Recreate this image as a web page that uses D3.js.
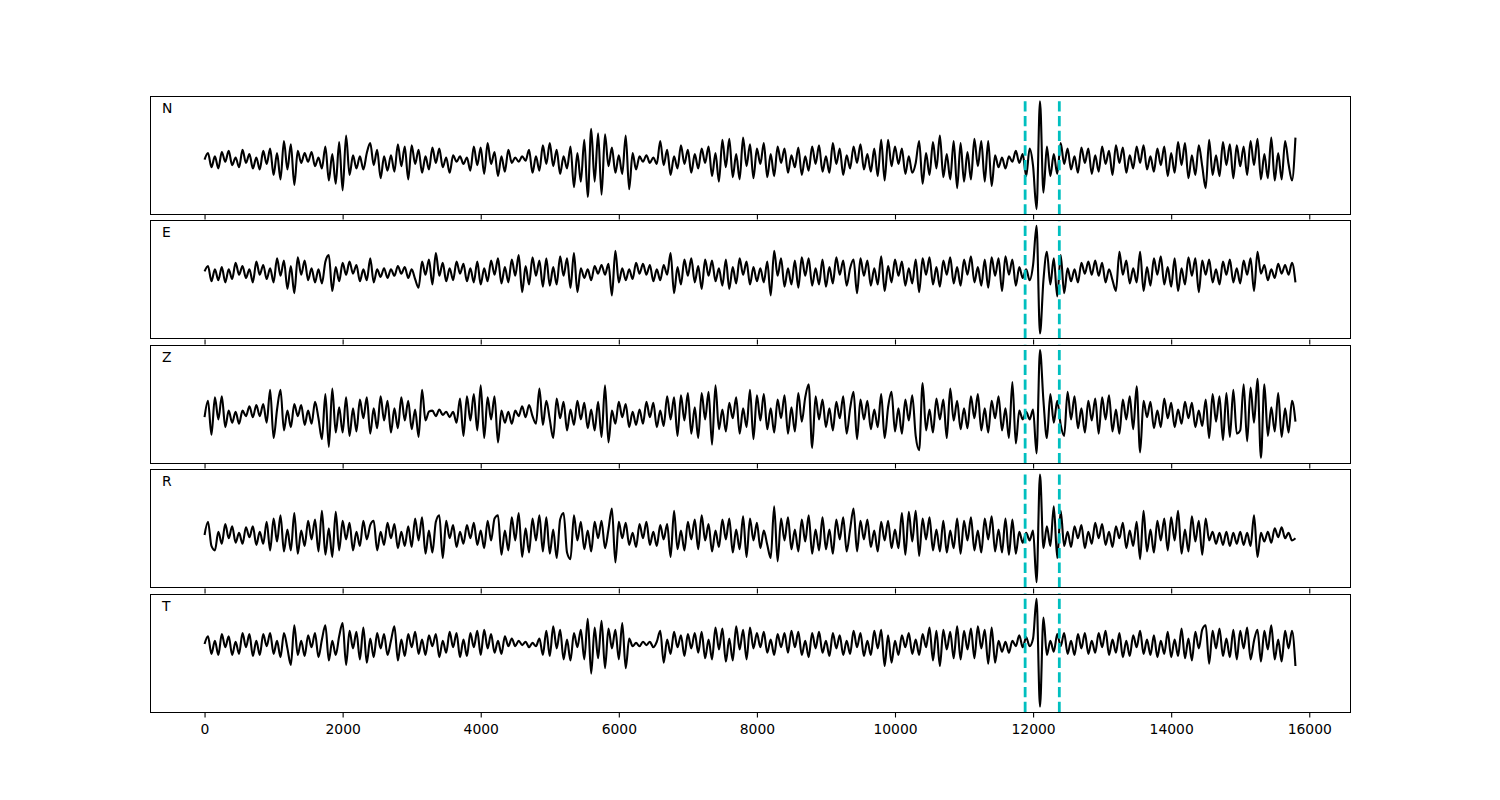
<!DOCTYPE html>
<html>
<head>
<meta charset="utf-8">
<script src="https://cdn.jsdelivr.net/npm/d3@7"></script>
<style>
  body { margin: 0; background: #fff; }
  text { font-family: "DejaVu Sans", sans-serif; }
</style>
</head>
<body>
<div id="chart"></div>
<script>
// one sample every 50 units (amplitudes in rough pixel units)
const sampleStep = 50

const channels = ["N", "E", "Z", "R", "T"]

const traceN = [
  0, 6, -7, 3, -8, 7, -2, 8, -5, 2, -7, 9, -3, 5, -8, 2, -9, 8, -4, 10,
  -14, 6, -18, 17, -9, 14, -23, 8, -3, 6, -2, 7, -6, 2, -8, 12, -19, 5, -22, 16,
  -28, 22, -14, 4, -8, 3, -9, 6, 15, -5, 9, -17, 3, -10, 4, -11, 14, -6, 12, -18,
  13, -4, 9, -12, 3, -9, 11, -3, 10, -7, 2, -12, 4, -2, 3, -4, 2, -10, 12, -5,
  11, -13, 15, -4, 7, -15, 3, -11, 9, -3, 2, -2, 3, -1, 9, -12, 3, -10, 13, -4,
  15, -6, 9, -13, 3, -8, 12, -25, 6, -20, 18, -34, 28, -20, 24, -32, 23, -6, 11, -12,
  4, -13, 22, -27, 6, -9, 3, -2, 4, -3, 2, -4, 17, -5, 9, -14, 3, -8, 13, -4,
  9, -12, 5, -8, 10, -3, 12, -15, 6, -20, 18, -7, 19, -16, 5, -18, 20, -6, 14, -17,
  10, -4, 15, -16, 5, -15, 12, -3, 10, -12, 4, -7, 11, -14, 3, -10, 12, -4, 13, -11,
  3, -12, 15, -4, 10, -14, 4, -8, 12, -3, 14, -9, 5, -11, 10, -15, 18, -19, 18, -6,
  12, -4, 10, -13, 3, -12, -3, 17, -22, 6, -14, 16, -8, 22, -16, 5, -18, 17, -26, 15,
  -20, 7, -18, 19, -6, 17, -20, 17, -24, 4, -7, 2, -8, 3, -2, 8, -3, 5, -15, 10,
  -6, -45, 53, -30, 12, -15, 5, -13, 15, -4, 10, -9, 3, -12, 11, -3, 10, -13, 4, -11,
  12, -4, 8, -14, 13, -3, 11, -12, 4, -8, 12, -3, 13, -9, 3, -11, 10, -5, 12, -15,
  6, -12, 16, -5, 15, -17, 4, -14, 13, -6, -26, 18, -14, 4, -15, 16, -5, 14, -17, 13,
  -6, 12, -14, 17, -5, 19, -18, 5, -17, 20, -19, 6, -18, 17, -4, -19, 20
]

const traceE = [
  0, 5, -9, 2, -8, 4, -10, 2, -7, 8, -3, 5, -6, 2, -10, 9, -3, 6, -7, 3,
  -10, 12, -4, 10, -16, 5, -20, 13, -3, 10, -8, 3, -10, 2, -11, 9, 15, -18, 4, -9,
  8, -3, 9, -2, 6, -9, 2, -8, 12, -10, 2, -5, 3, -6, 2, -4, 5, -2, 4, -6,
  2, -7, -15, 9, -3, 11, -12, 17, -4, 8, -9, 3, -8, 9, -2, 7, -9, 3, -10, 9,
  -12, 3, -9, 10, -3, 12, -11, 4, -10, 11, -4, 15, -19, 5, -12, 13, -4, 10, -14, 12,
  -13, 4, -12, 14, -4, 12, -15, 17, -19, 3, -6, 2, -8, 5, -2, 6, -3, 7, -22, 19,
  -10, 3, -8, 2, -7, 8, -2, 7, -3, 6, -9, 2, -8, 6, -3, 17, -20, 4, -12, 11,
  -4, 12, -10, 5, -16, 11, -4, 10, -9, 3, -13, 11, -16, 4, -11, 12, -3, 9, -12, 4,
  -9, 3, -10, 9, -22, 19, -4, 12, -14, 3, -12, 10, -15, 13, -4, 12, -13, 3, -12, 11,
  -14, 4, -11, 13, -3, 10, -13, 3, 11, -20, 12, -4, 10, -13, 3, -12, 14, -18, 5, -10,
  11, -4, 9, -13, 3, -11, 11, -19, 12, -3, 13, -12, 4, -14, 10, -3, 13, -11, 4, -13,
  11, -3, 14, -10, 4, -13, 11, -15, 13, -4, 12, -18, 14, -3, 11, -13, 4, -6, 2, -8,
  6, 42, -57, -8, 18, -12, 12, -23, 15, -20, 3, -9, 2, -10, 8, -2, 9, -3, 10, -4,
  8, -10, 2, -8, -18, 18, -3, 10, -11, 3, -10, 18, -18, 4, -13, 12, -3, 14, -12, 4,
  -14, 12, -18, 3, -12, 13, -4, 12, -19, 10, -3, 11, -10, 2, -12, 9, -3, 11, -10, 3,
  -11, 10, -3, 12, -18, 18, -2, 6, -8, 2, -6, 7, -2, 6, -3, 8, -10
]

const traceZ = [
  -3, 12, -19, 15, -5, 16, -12, 3, -8, 2, -9, 3, -2, 7, -3, 8, -2, 9, -8, 22,
  -22, 4, 22, -15, 3, -12, 9, -2, 8, -10, 3, -9, 11, -4, -23, 18, -30, 23, -17, 6,
  -17, 15, -20, 5, -16, 13, -4, 15, -18, 5, -13, 16, -6, 12, -17, 5, -13, 15, -6, 12,
  -14, 4, -21, 22, -6, 2, 3, -2, 4, -1, 2, -3, 2, -8, 14, -20, 16, -6, 18, -15,
  26, -22, 15, -5, 16, -26, 3, -8, 2, -9, 3, -2, 7, -3, 8, -2, -9, 23, -10, 12,
  -5, -22, 14, -4, 11, -15, 4, -10, 12, -5, 10, -13, 4, -15, 11, -21, 26, -26, 3, -9,
  11, -3, 9, -12, 2, -10, 4, -9, 11, -3, 10, -12, 3, -11, 16, -5, 15, -20, 17, -6,
  19, -18, 6, -22, 19, -5, 20, -28, 26, -14, 4, -16, 10, -4, 15, -18, 5, -12, 22, -23,
  17, -6, 18, -14, 5, -17, 13, -4, 17, -18, 6, -16, 19, -7, 15, 27, -31, 16, -5, 13,
  -12, 5, -15, 11, -4, 16, -18, 5, 20, -23, 13, -5, 12, -14, 4, -12, 18, -22, 6, 20,
  -16, 5, -18, 13, -6, 17, -20, -33, 28, -15, 4, -17, 14, -5, 13, -22, 23, -6, 12, -14,
  5, -13, 16, -4, 18, -15, 5, -17, 12, -4, 16, -15, 5, -22, 29, -27, 3, -5, 2, -5,
  4, -36, 58, 12, -22, 18, -8, 12, -10, -20, 20, -5, 16, -13, 5, -17, 12, -6, 14, -18,
  15, -5, 17, -16, 4, -18, 13, -5, 16, -14, 25, -35, 12, -3, 11, -13, 3, -12, 14, -4,
  10, -12, 4, -9, 11, -4, 10, -12, 3, -11, 13, -22, 18, -7, 16, -24, 19, -21, 22, -18,
  -15, 27, -25, 24, -8, 32, -40, 27, -20, 6, -16, 19, -21, 5, -17, 12, -7
]

const traceR = [
  0, 12, -10, -14, 3, -8, 10, -3, 8, -7, 2, -8, 7, -2, 8, -9, 3, -8, 12, -14,
  15, -6, 18, -15, 5, -14, 20, -17, 4, -10, 13, -4, 14, -15, 22, -18, 6, -20, 21, -14,
  13, -4, 11, -14, 3, -10, 13, -4, 9, 13, -14, 3, -9, 11, -3, 10, -12, 3, -10, 8,
  -11, 15, -5, 16, -17, 4, -16, 12, 18, -21, 13, -3, 9, -11, 3, -8, 9, -3, 11, -9,
  4, -12, 13, -5, 15, 18, -18, 4, -14, 16, -5, 20, -20, 6, -16, 15, -5, 18, -15, 16,
  -17, 5, -21, 14, 20, -16, -22, 18, -5, 12, -13, 4, -15, 12, -3, 13, -12, 5, 24, -25,
  12, -3, 11, -9, 2, -11, 10, -3, 12, -9, 3, -10, 9, -4, 10, -20, 22, -13, 4, -14,
  12, -4, 14, -13, 18, -5, 10, -15, 4, -11, 14, -4, 15, -16, 5, -13, 17, -20, 15, -5,
  11, -12, 4, -9, -21, 26, -24, 15, -5, 16, -13, 5, -15, 14, -6, 18, -17, 5, -14, 16,
  -13, 5, -17, 14, -4, 16, -15, 5, 24, -15, 13, -4, 14, -11, 4, -15, 12, -5, 13, -12,
  5, -12, 20, -18, 21, -6, 22, -19, 15, -4, 16, -14, 5, -15, 13, -16, 4, -12, 15, -17,
  13, -5, 16, -14, 4, -16, 15, -4, 17, -15, 5, -16, 15, -18, 14, -17, 3, -7, 2, -5,
  4, -43, 55, -12, 8, -10, 26, -21, 22, -10, 3, -11, 8, -3, 9, -12, 3, -8, 11, -3,
  10, -9, 3, -11, 8, -3, 11, -12, 4, -10, 12, -22, 22, -15, 5, -16, 13, -5, 15, -14,
  16, -5, 22, -17, 5, -15, 17, -6, 13, -18, 15, -5, 3, -8, 2, -9, 3, -10, 2, -8,
  3, -9, 2, -10, 18, -20, 2, -6, 3, -7, 6, -2, 7, -3, 2, -5, -3
]

const traceT = [
  0, 7, -9, 3, -10, 9, -3, 7, -10, 2, -9, 10, -3, 9, -11, 3, -10, 9, -2, 10,
  -9, 3, -12, 10, -4, -19, 17, -10, 3, -11, 8, -3, 10, -12, 4, 17, -15, 3, -10, 7,
  19, -19, 12, -4, 11, -14, 15, -17, 5, -12, 10, -4, 9, -10, 3, 16, -15, 4, -11, 9,
  -3, 11, -9, 4, -10, 8, -2, 9, -12, 3, -8, 11, -3, 10, -12, 4, -11, 10, -3, 12,
  -10, 13, -4, 9, -8, 3, -9, 7, -2, 5, -2, 3, -1, 2, -3, 1, -2, 5, -10, 12,
  -11, 16, -4, 13, -14, 4, -15, 10, -3, 13, -14, 23, -27, 15, -13, 21, -22, 14, -4, 13,
  -14, 19, -22, 5, -2, 1, -2, 2, -1, 2, -3, 2, 12, -17, 4, -9, 11, -3, 8, -11,
  9, -4, 10, -8, 11, -13, 4, -14, 15, -5, 14, -16, 5, -15, 16, -5, 13, -14, 15, -4,
  10, -3, 11, -8, 4, -10, 9, -3, 10, -8, 12, -3, 11, -10, 3, -12, 10, -4, 11, -8,
  3, -11, 10, -4, 8, -10, 3, -9, 12, -3, 10, -11, 3, -10, 12, -4, 13, -20, 8, -17,
  3, -10, 8, -3, 10, -9, 4, -10, 9, -3, 15, -15, 12, -20, 13, -5, 11, -13, 16, -14,
  12, -5, 14, -13, 16, -4, 13, -18, 15, -17, 3, -7, 2, -8, 3, -2, 8, -3, 6, -2,
  5, 41, -57, 24, -10, 3, -7, 9, -2, 10, -9, 3, -10, 9, -4, 10, -9, 3, -8, 10,
  -3, 12, -10, 4, -8, 10, -12, 3, -11, 8, -3, 12, -9, 4, -10, 8, -12, 3, -9, 11,
  -12, 4, -11, 14, -13, 5, -15, 11, -4, 13, 17, -18, 12, -4, 14, -11, 5, -12, 13, -14,
  12, -4, 15, -14, 3, 13, -16, 12, -5, 17, -14, 4, -16, 12, -4, 12, -20
]

// picked window (dashed cyan lines)
const pickTimes = [11885, 12380]

const tickValues = [0, 2000, 4000, 6000, 8000, 10000, 12000, 14000, 16000]

const traces = [traceN, traceE, traceZ, traceR, traceT]

const width = 1500
const height = 800
const margin = { top: 96, right: 150, bottom: 88, left: 150 }
const hspace = 0.05

const plotH = height - margin.top - margin.bottom
const panelH = plotH / (channels.length + (channels.length - 1) * hspace)
const gap = panelH * hspace

const lastT = (traceN.length - 1) * sampleStep
const xpad = lastT * 0.05
const x = d3.scaleLinear([-xpad, lastT + xpad], [margin.left, width - margin.right])

const svg = d3.select("#chart").append("svg")
  .attr("width", width)
  .attr("height", height)
  .attr("viewBox", [0, 0, width, height])

svg.append("rect").attr("width", width).attr("height", height).attr("fill", "#fff")

channels.forEach((name, i) => {
  const data = traces[i]
  const top = margin.top + i * (panelH + gap)
  const bottom = top + panelH

  // y range like matplotlib: data extent + 5%
  const ext = d3.extent(data)
  const p = (ext[1] - ext[0]) * 0.05
  const y = d3.scaleLinear([ext[0] - p, ext[1] + p], [bottom, top])

  const g = svg.append("g").attr("class", "panel")

  const line = d3.line()
    .x((d, j) => x(j * sampleStep))
    .y(d => y(d))
    .curve(d3.curveMonotoneX)

  g.append("path")
    .datum(data)
    .attr("fill", "none")
    .attr("stroke", "#000")
    .attr("stroke-width", 2.1)
    .attr("stroke-linejoin", "round")
    .attr("d", line)

  g.selectAll("line.pick")
    .data(pickTimes)
    .join("line")
    .attr("class", "pick")
    .attr("x1", d => x(d)).attr("x2", d => x(d))
    .attr("y1", bottom).attr("y2", top)
    .attr("stroke", "#00bfbf")
    .attr("stroke-width", 2.8)
    .attr("stroke-dasharray", "10.3,4.4")

  // frame
  g.append("rect")
    .attr("x", Math.round(x.range()[0]) + 0.5)
    .attr("y", Math.round(top) + 0.5)
    .attr("width", Math.round(x.range()[1] - x.range()[0]))
    .attr("height", Math.round(panelH))
    .attr("fill", "none")
    .attr("stroke", "#000")
    .attr("stroke-width", 1)

  const axis = d3.axisBottom(x)
    .tickValues(tickValues)
    .tickSize(5)
    .tickPadding(7)
    .tickFormat(i < channels.length - 1 ? "" : d3.format("d"))

  const ax = g.append("g")
    .attr("transform", `translate(0,${Math.round(top + panelH) + 0.5})`)
    .call(axis)
  ax.select(".domain").remove()
  ax.selectAll(".tick line").attr("stroke", "#000").attr("stroke-width", 1.1)
  ax.selectAll(".tick text")
    .attr("fill", "#000")
    .style("font-size", "13.9px")
    .style("font-family", "DejaVu Sans, sans-serif")

  g.append("text")
    .attr("x", x.range()[0] + 12)
    .attr("y", top + 17)
    .attr("fill", "#000")
    .style("font-size", "13.9px")
    .text(name)
})
</script>
</body>
</html>
